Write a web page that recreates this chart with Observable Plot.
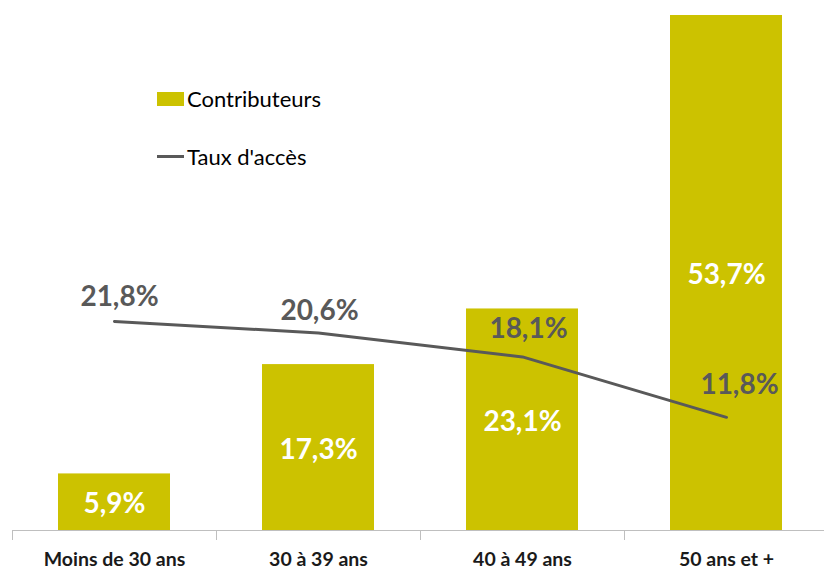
<!DOCTYPE html>
<html>
<head>
<meta charset="utf-8">
<script src="https://cdn.jsdelivr.net/npm/d3@7"></script>
<script src="https://cdn.jsdelivr.net/npm/@observablehq/plot@0.6"></script>
<style>
  html, body { margin: 0; padding: 0; background: #fff; }
  #wrap { position: relative; width: 824px; height: 571px; font-family: Lato, "Noto Sans", sans-serif; }
  .legend { position: absolute; left: 157px; font-size: 22px; color: #000; display: flex; align-items: center; }
  .sw { display: inline-block; width: 27px; margin-right: 3px; }
</style>
</head>
<body>
<div id="wrap">
  <div class="legend" style="top:85px"><span class="sw" style="height:14px;background:#CCC200"></span>Contributeurs</div>
  <div class="legend" style="top:143px"><span class="sw" style="height:3px;background:#595959"></span>Taux d'accès</div>
</div>
<script>
const categories = ["Moins de 30 ans", "30 à 39 ans", "40 à 49 ans", "50 ans et +"];
const contributeurs = [5.9, 17.3, 23.1, 53.7];
const tauxAcces = [21.8, 20.6, 18.1, 11.8];

const fmt = v => v.toFixed(1).replace(".", ",") + "%";
const bars = categories.map((c, i) => ({cat: c, v: contributeurs[i]}));
const line = categories.map((c, i) => ({cat: c, v: tauxAcces[i]}));
const lineOffsets = [[5, -24], [1, -22], [6, -28], [13, -32]];

const chart = Plot.plot({
  width: 824,
  height: 571,
  marginTop: 15,
  marginBottom: 41,
  marginLeft: 12,
  marginRight: 0,
  style: {fontFamily: "Lato, 'Noto Sans', sans-serif", background: "transparent"},
  x: {domain: categories, range: [12, 828], paddingInner: 0.45, paddingOuter: 0.225, align: 0.5, axis: null},
  y: {domain: [0, 53.7], range: [530, 15], axis: null},
  marks: [
    Plot.barY(bars, {x: "cat", y: "v", fill: "#CCC200"}),
    Plot.ruleY([0], {stroke: "#BFBFBF", strokeWidth: 1}),
    Plot.ruleX(categories, {x: d => d, dx: -102, y1: 0, y2: 0, insetBottom: -10, stroke: "#BFBFBF"}),
    Plot.axisX({tickSize: 0, tickPadding: 22, fontSize: 19.5, fontWeight: "bold", fill: "#1a1a1a", label: null}),
    Plot.text(bars, {x: "cat", y: d => d.v / 2, text: d => fmt(d.v), fill: "#fff", fontSize: 28, fontWeight: "bold", dy: 2}),
    Plot.line(line, {x: "cat", y: "v", stroke: "#595959", strokeWidth: 3}),
    ...line.map((d, i) => Plot.text([d], {x: "cat", y: "v", text: e => fmt(e.v), fill: "#595959", fontSize: 28, fontWeight: "bold", dx: lineOffsets[i][0], dy: lineOffsets[i][1]}))
  ]
});
chart.style.position = "absolute";
chart.style.left = "0";
chart.style.top = "0";
document.getElementById("wrap").prepend(chart);
</script>
</body>
</html>
